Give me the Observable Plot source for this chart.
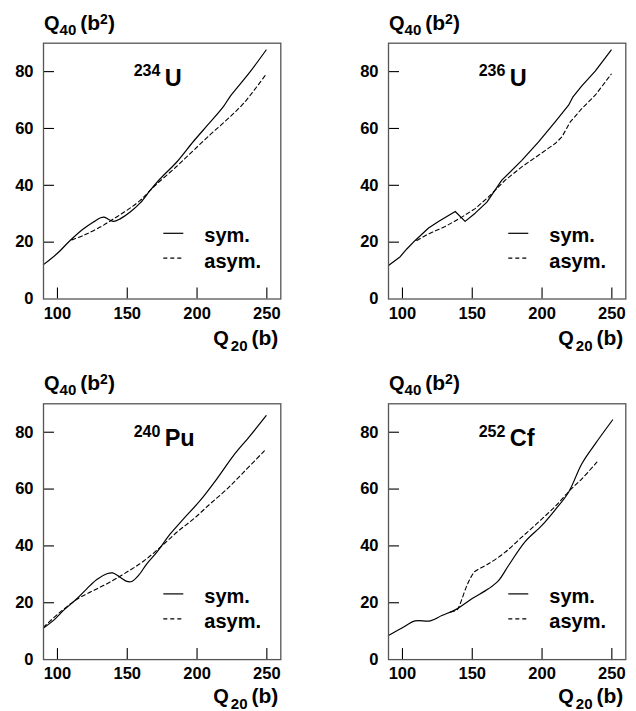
<!DOCTYPE html>
<html>
<head>
<meta charset="utf-8">
<script src="https://cdn.jsdelivr.net/npm/d3@7"></script>
<script src="https://cdn.jsdelivr.net/npm/@observablehq/plot@0.6"></script>
<style>
  body { margin: 0; background: #fff; }
  #fig { position: relative; width: 636px; height: 711px; overflow: hidden;
         font-family: "Liberation Sans", Arial, Helvetica, sans-serif; }
  .panel { position: absolute; }
</style>
</head>
<body>
<div id="fig"></div>
<script>
// Axis ticks (Q20 in barns, Q40 in barns^2)
const xTicks = [100, 150, 200, 250];
const yTicks = [0, 20, 40, 60, 80];
const legendLabels = ["sym.", "asym."];

// Fission paths: [Q20, Q40] along the symmetric and asymmetric valleys
const u234Sym = [[90,12.1],[99.6,15.9],[109.1,20.6],[118.7,24.7],[125.8,27.1],[131,28.6],[133.5,28.8],[137,27.9],[140.2,27.3],[144.9,28.2],[152.1,30.6],[159.3,33.8],[166.4,38.2],[173.6,42.3],[185.5,48.2],[197.5,55.5],[209.4,62.2],[219,67.8],[224,71.5],[228.5,74.2],[238.1,80.0],[249.5,87.6]];
const u234Asym = [[110.3,20.8],[118.7,22.4],[130.6,25.3],[140.2,28.2],[149.7,31.2],[159.3,34.7],[168.8,39.4],[185.5,46.7],[197.5,52.3],[209.4,57.8],[221.4,63.1],[233.3,68.8],[249.5,79.1]];

const u236Sym = [[90,11.8],[98.4,14.9],[103.1,17.6],[109.1,20.6],[118.7,25.0],[125.8,27.3],[137.8,30.8],[144.9,27.3],[152.1,30.2],[160.5,34.1],[164.5,37.0],[171.2,41.8],[185.5,48.8],[197.5,55.3],[209.4,62.3],[219,68.2],[222,71.0],[228.5,75.0],[238.1,80.2],[249.5,87.6]];
const u236Asym = [[110.3,20.6],[118.7,22.9],[130.6,25.5],[142.5,28.8],[152.1,31.8],[161.6,35.9],[173.6,41.8],[185.5,46.5],[197.5,50.6],[209.4,54.7],[214.2,57.0],[220.2,62.3],[228.5,67.0],[238.1,71.7],[249.5,79.1]];

const pu240Sym = [[90,11.1],[97.2,13.8],[104.3,17.3],[113.9,21.4],[121,24.9],[128.2,28.2],[135.4,30.2],[139.5,30.5],[144.9,29.0],[149.7,27.5],[153.3,27.5],[158.1,29.6],[164,33.7],[171.2,37.8],[180.8,44.2],[190.3,49.5],[202.3,56.0],[214.2,63.6],[226.1,71.8],[238.1,78.8],[249.5,85.8]];
const pu240Asym = [[90,11.4],[101.9,16.7],[113.9,21.2],[125.8,24.3],[137.8,27.3],[149.7,30.8],[161.6,34.6],[173.6,39.5],[185.5,44.8],[197.5,49.5],[209.4,54.8],[221.4,60.0],[233.3,65.9],[249.5,74.1]];

const cf252Sym = [[90,8.5],[99.6,11.1],[109.1,13.6],[119.9,13.6],[128.2,15.5],[137.8,17.5],[149.7,21.4],[161.6,24.9],[168.8,27.8],[176,33.1],[187.9,41.5],[199.9,47.2],[209.4,52.7],[219,58.9],[228.5,68.9],[238.1,75.9],[250.5,84.3]];
const cf252Asym = [[134.5,16.8],[139,17.5],[141.3,19.6],[146.1,26.0],[150.5,30.2],[152.1,31.1],[161.6,33.7],[173.6,37.8],[185.5,43.1],[197.5,48.4],[209.4,53.9],[220.2,59.7],[228.5,63.6],[239.3,69.5]];

const panels = [
  {mass: "234", element: "U",  sym: u234Sym,  asym: u234Asym,  left: 0,   top: 0,   height: 355, ml: 43, mt: 42.7, curve: "catmull-rom", xTitleDy: 46},
  {mass: "236", element: "U",  sym: u236Sym,  asym: u236Asym,  left: 318, top: 0,   height: 355, ml: 70, mt: 42.7, curve: "linear",      xTitleDy: 46},
  {mass: "240", element: "Pu", sym: pu240Sym, asym: pu240Asym, left: 0,   top: 355, height: 356, ml: 43, mt: 48.3, curve: "catmull-rom", xTitleDy: 43.5},
  {mass: "252", element: "Cf", sym: cf252Sym, asym: cf252Asym, left: 318, top: 355, height: 356, ml: 70, mt: 48.3, curve: "catmull-rom", xTitleDy: 43.5}
];

const FONT = '"Liberation Sans", Arial, Helvetica, sans-serif';
const frameW = 237.3, frameH = 255.8, W = 318, tickLen = 11;

const fig = document.getElementById("fig");

function label(svg, x, y, size) {
  return svg.append("text")
    .attr("x", x).attr("y", y)
    .attr("text-anchor", "start")
    .attr("font-family", FONT).attr("font-weight", "bold")
    .attr("font-size", size).attr("fill", "#000");
}

for (const p of panels) {
  const mr = W - p.ml - frameW;
  const mb = p.height - p.mt - frameH;
  const chart = Plot.plot({
    width: W,
    height: p.height,
    marginLeft: p.ml,
    marginRight: mr,
    marginTop: p.mt,
    marginBottom: mb,
    style: {fontFamily: FONT, fontSize: "16.5px", fontWeight: "bold", color: "#000", background: "transparent"},
    x: {domain: [90, 260], ticks: xTicks, tickSize: 0, tickPadding: 8, label: null, tickFormat: d => String(d)},
    y: {domain: [0, 90], ticks: yTicks, tickSize: 0, tickPadding: 10, label: null, tickFormat: d => String(d)},
    marks: [
      Plot.tickX(xTicks, {x: d => d, insetTop: frameH - tickLen, stroke: "#000", strokeWidth: 1.1}),
      Plot.tickY(yTicks.filter(v => v > 0), {y: d => d, insetRight: frameW - tickLen, stroke: "#000", strokeWidth: 1.1}),
      Plot.line(p.asym, {x: d => d[0], y: d => d[1], stroke: "#000", strokeWidth: 1.1, strokeDasharray: "4,3", curve: p.curve}),
      Plot.line(p.sym, {x: d => d[0], y: d => d[1], stroke: "#000", strokeWidth: 1.2, curve: p.curve}),
      Plot.frame({stroke: "#555", strokeWidth: 1.3})
    ]
  });

  const svg = d3.select(chart);
  const fx = p.ml, fy = p.mt;

  // y-axis title: Q40 (b^2)
  const yt = label(svg, fx + 1, fy - 13, 20);
  yt.append("tspan").text("Q");
  yt.append("tspan").attr("font-size", 15).attr("dy", 5).text("40");
  yt.append("tspan").attr("dx", 4).attr("dy", -5).attr("font-size", 21).text("(b");
  yt.append("tspan").attr("font-size", 14).attr("dy", -6).text("2");
  yt.append("tspan").attr("dy", 6).attr("font-size", 21).text(")");

  // x-axis title: Q20 (b)
  const xt = label(svg, fx + frameW - 67, fy + frameH + p.xTitleDy, 20);
  xt.append("tspan").text("Q");
  xt.append("tspan").attr("font-size", 15).attr("dx", 2).attr("dy", 6.5).text("20");
  xt.append("tspan").attr("dx", 4).attr("dy", -6.5).attr("font-size", 21).text("(b)");

  // nuclide label
  label(svg, fx + 90.7, fy + 33.3, 16).text(p.mass);
  label(svg, fx + 121.7, fy + 43, 23.5).text(p.element);

  // legend
  const rows = [{dash: null, ly: 190.6, ty: 199.5}, {dash: "4,3", ly: 215.5, ty: 225}];
  rows.forEach((r, i) => {
    const ln = svg.append("line")
      .attr("x1", fx + 120.3).attr("x2", fx + 140.3)
      .attr("y1", fy + r.ly).attr("y2", fy + r.ly)
      .attr("stroke", "#000").attr("stroke-width", 1.2);
    if (r.dash) ln.attr("stroke-dasharray", r.dash);
    label(svg, fx + 161.3, fy + r.ty, 20).text(legendLabels[i]);
  });

  const holder = document.createElement("div");
  holder.className = "panel";
  holder.style.left = p.left + "px";
  holder.style.top = p.top + "px";
  holder.appendChild(chart);
  fig.appendChild(holder);
}
</script>
</body>
</html>
